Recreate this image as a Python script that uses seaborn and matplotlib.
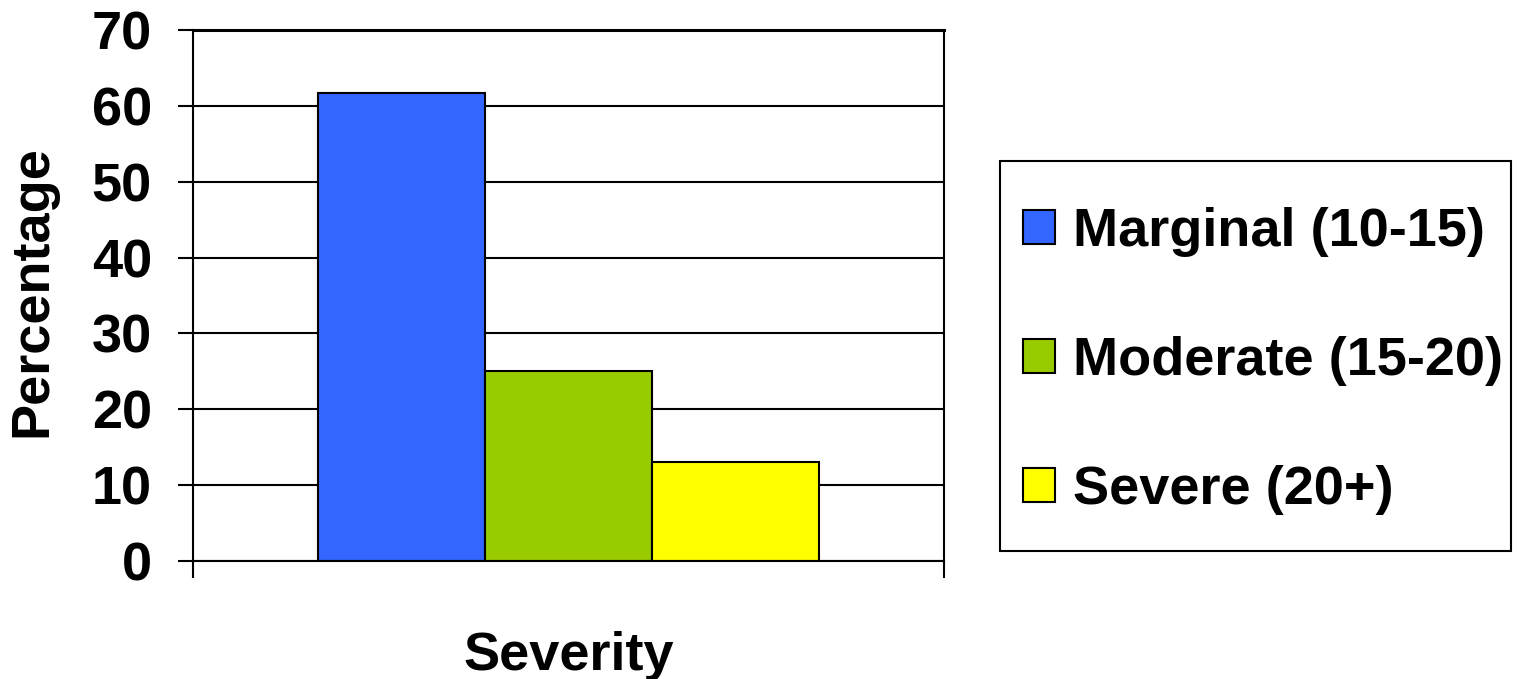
import matplotlib
matplotlib.use("Agg")
import matplotlib.pyplot as plt
import seaborn as sns
import pandas as pd
from matplotlib.ticker import FixedLocator
from matplotlib.patches import Rectangle

groups = ["Marginal (10-15)", "Moderate (15-20)", "Severe (20+)"]
values = [61.7, 25.0, 13.0]
category = ["Severity", "Severity", "Severity"]
colors = ["#3366FF", "#99CC00", "#FFFF00"]
yticks = [0, 10, 20, 30, 40, 50, 60, 70]

sns.set_theme(style="white")
plt.rcParams["font.family"] = ["Liberation Sans", "DejaVu Sans"]
plt.rcParams["font.weight"] = "bold"
for k in ["text.color", "axes.labelcolor", "xtick.color", "ytick.color"]:
    plt.rcParams[k] = "black"

FS = 39
df = pd.DataFrame({"cat": category, "group": groups, "value": values})

fig = plt.figure(figsize=(15.17, 6.79), dpi=100)
ax = fig.add_axes([193/1517, 1-561/679, (944-193)/1517, (561-30)/679])

sns.barplot(data=df, x="cat", y="value", hue="group", hue_order=groups,
            palette=colors, width=0.668, gap=0, edgecolor="black",
            linewidth=1.5, saturation=1, ax=ax, legend=True)

ax.set_xlim(-0.5, 0.5)
ax.set_ylim(0, 70)
ax.set_yticks(yticks)
ax.set_yticklabels([str(t) for t in yticks], fontsize=FS, fontweight="bold")
ax.yaxis.grid(True, color="black", linewidth=1.5)
ax.set_axisbelow(True)
for s in ax.spines.values():
    s.set_color("black")
    s.set_linewidth(1.5)
    s.set_visible(True)
ax.spines["top"].set_linewidth(2.2)
ax.tick_params(axis="y", direction="out", length=11, width=1.5, color="black", pad=18.5, left=True)
ax.set_xticks([])
ax.xaxis.set_minor_locator(FixedLocator([-0.5, 0.5]))
ax.tick_params(axis="x", which="minor", direction="out", length=12, width=1.5, color="black", bottom=True)
ax.set_xticklabels([])
ax.set_xlabel("Severity", fontsize=FS, fontweight="bold", labelpad=35)
ax.set_ylabel("Percentage", fontsize=FS, fontweight="bold", labelpad=20)
ax.yaxis.set_label_coords(-0.181, 0.508)

leg = ax.legend(loc="center left", bbox_to_anchor=(1023/1517, 1-361/679),
                bbox_transform=fig.transFigure,
                prop={"size": FS, "weight": "bold"}, frameon=False,
                handlelength=0.59, handleheight=0.59,
                handletextpad=0.33, labelspacing=1.46, borderpad=0,
                borderaxespad=0)
for p in leg.get_patches():
    p.set_edgecolor("black")
    p.set_linewidth(1.5)

fig.patches.append(Rectangle((1000/1517, 1-551/679), 511/1517, 390/679,
                             transform=fig.transFigure, fill=False,
                             edgecolor="black", linewidth=1.5))

fig.savefig("out.png", dpi=100, facecolor="white")
